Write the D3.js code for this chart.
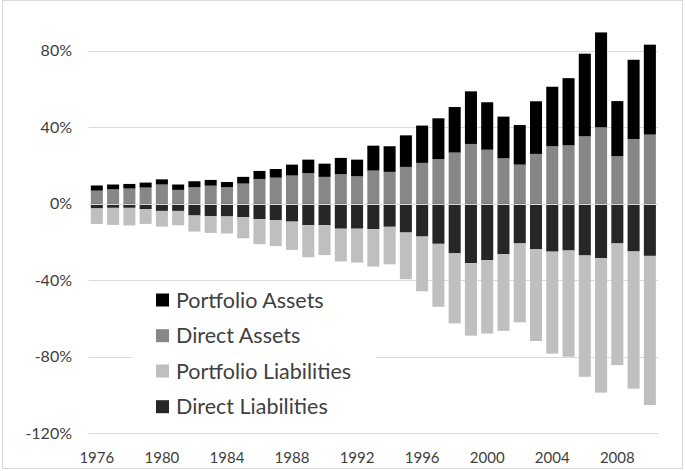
<!DOCTYPE html>
<html><head><meta charset="utf-8">
<script src="https://cdn.jsdelivr.net/npm/d3@7"></script>
<style>body{margin:0;background:#fff}svg{display:block}text{font-family:Lato,"Open Sans",sans-serif;fill:#404040}</style>
</head><body>
<svg id="c" width="685" height="471"></svg>
<script>
const years = d3.range(1976, 2011);
const directAssets = [6.8,7.5,7.9,8.4,10.0,7.2,8.6,9.4,8.6,10.5,12.9,13.6,14.7,16.0,14.0,15.4,14.3,17.3,16.6,19.2,21.3,23.3,26.7,31.2,28.2,23.7,20.4,26.0,30.0,30.5,35.2,39.9,24.8,33.8,36.1];
const portfolioAssets = [2.7,2.5,2.4,2.6,2.7,2.8,3.1,3.0,2.7,3.5,4.2,4.5,5.7,7.0,6.9,8.5,8.7,13.0,13.4,16.5,19.5,21.3,23.8,27.5,24.8,21.8,20.7,27.5,31.1,35.1,43.2,49.6,28.8,41.4,47.0];
const directLiabilities = [-2.5,-2.2,-2.2,-2.8,-3.8,-3.8,-6.2,-6.6,-6.7,-7.1,-8.1,-8.7,-9.4,-11.3,-11.3,-13.1,-13.1,-13.3,-12.1,-15.1,-17.2,-21.0,-26.0,-31.1,-29.6,-26.4,-20.8,-23.9,-25.1,-24.5,-27.1,-28.5,-20.8,-25.0,-27.3];
const portfolioLiabilities = [-8.1,-8.9,-9.2,-7.8,-8.2,-7.5,-8.4,-8.7,-8.9,-11.0,-13.1,-13.5,-14.8,-16.7,-15.6,-17.1,-17.7,-19.6,-19.6,-24.4,-28.6,-32.9,-36.6,-37.9,-38.3,-40.1,-41.2,-47.9,-53.3,-55.5,-63.4,-70.3,-63.6,-71.7,-78.0];
const yTicks = [-120,-80,-40,0,40,80];
const xTickYears = [1976,1980,1984,1988,1992,1996,2000,2004,2008];
const seriesKeys = ["Direct Assets","Portfolio Assets","Direct Liabilities","Portfolio Liabilities"];
const legendKeys = ["Portfolio Assets","Direct Assets","Portfolio Liabilities","Direct Liabilities"];
const colors = {"Portfolio Assets":"#000000","Direct Assets":"#878787","Portfolio Liabilities":"#bfbfbf","Direct Liabilities":"#262626"};

const table = years.map((y,i)=>({year:y,"Direct Assets":directAssets[i],"Portfolio Assets":portfolioAssets[i],"Direct Liabilities":directLiabilities[i],"Portfolio Liabilities":portfolioLiabilities[i]}));

const svg = d3.select("#c");
const x = d3.scaleBand().domain(years).range([88.7,658]).paddingInner(0.26).paddingOuter(0.13);
const y = d3.scaleLinear().domain([-120,80]).range([433.2,50.6]);

svg.append("rect").attr("x",2.5).attr("y",0.5).attr("width",680).attr("height",468).attr("fill","#fff").attr("stroke","#d9d9d9");

// gridlines
svg.append("g").selectAll("line").data(yTicks.filter(d=>d!==0)).join("line")
  .attr("x1",88.7).attr("x2",658).attr("y1",d=>Math.round(y(d))+0.5).attr("y2",d=>Math.round(y(d))+0.5)
  .attr("stroke","#d9d9d9").attr("stroke-width",1);

const stack = d3.stack().keys(seriesKeys).offset(d3.stackOffsetDiverging);
const layers = stack(table);
svg.append("g").selectAll("g").data(layers).join("g").attr("fill",d=>colors[d.key])
  .selectAll("rect").data(d=>d).join("rect")
  .attr("x",d=>x(d.data.year)).attr("width",x.bandwidth())
  .attr("y",d=>y(Math.max(d[0],d[1]))).attr("height",d=>Math.abs(y(d[0])-y(d[1])));

// zero axis line
svg.append("line").attr("x1",88.7).attr("x2",658).attr("y1",Math.round(y(0))+0.5).attr("y2",Math.round(y(0))+0.5)
  .attr("stroke","#d9d9d9").attr("stroke-width",1);

// y labels
svg.append("g").selectAll("text").data(yTicks).join("text")
  .attr("x",72).attr("y",d=>y(d)).attr("dy","0.35em").attr("text-anchor","end")
  .style("font-size","16px").text(d=>d+"%");

// x labels
svg.append("g").selectAll("text").data(xTickYears).join("text")
  .attr("x",d=>x(d)+x.bandwidth()/2).attr("y",463).attr("text-anchor","middle")
  .style("font-size","15px").text(d=>d);

// legend
const lg = svg.append("g");
lg.append("rect").attr("x",132).attr("y",283).attr("width",244).attr("height",145).attr("fill","#fff");
const rowY = [300,335.7,371,406.7];
legendKeys.forEach((k,i)=>{
  lg.append("rect").attr("x",156).attr("y",rowY[i]-6.5).attr("width",13).attr("height",13).attr("fill",colors[k]);
  lg.append("text").attr("x",176).attr("y",rowY[i]).attr("dy","0.35em").style("font-size","21.5px").text(k);
});
</script>
</body></html>
